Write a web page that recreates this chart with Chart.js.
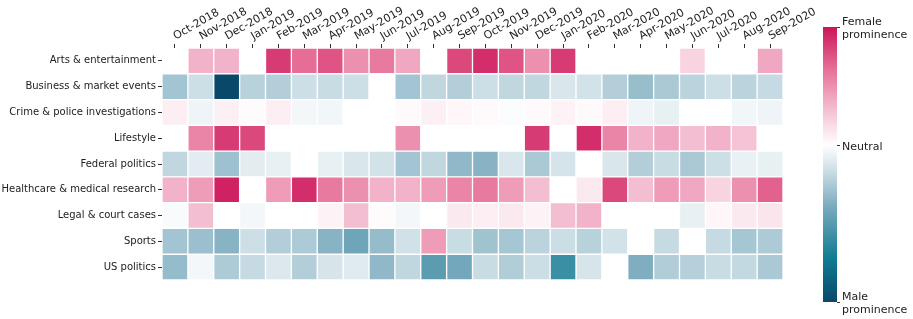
<!DOCTYPE html>
<html>
<head>
<meta charset="utf-8">
<script src="https://cdn.jsdelivr.net/npm/chart.js@4.4.1/dist/chart.umd.min.js"></script>
<style>
  body { margin: 0; background: #fff; }
  #wrap { position: relative; width: 913px; height: 319px; }
  canvas { position: absolute; top: 0; }
  #heat { left: 0; }
  #cbar { left: 800px; }
</style>
</head>
<body>
<div id="wrap">
  <canvas id="heat" width="913" height="319"></canvas>
  <canvas id="cbar" width="113" height="319"></canvas>
</div>
<script>
const months = ['Oct-2018', 'Nov-2018', 'Dec-2018', 'Jan-2019', 'Feb-2019', 'Mar-2019', 'Apr-2019', 'May-2019',
  'Jun-2019', 'Jul-2019', 'Aug-2019', 'Sep-2019', 'Oct-2019', 'Nov-2019', 'Dec-2019', 'Jan-2020',
  'Feb-2020', 'Mar-2020', 'Apr-2020', 'May-2020', 'Jun-2020', 'Jul-2020', 'Aug-2020', 'Sep-2020'];

const topics = ['Arts & entertainment', 'Business & market events', 'Crime & police investigations', 'Lifestyle',
  'Federal politics', 'Healthcare & medical research', 'Legal & court cases', 'Sports', 'US politics'];

// prominence score per month (positive = female, negative = male)
const arts = [0, 0.35, 0.35, 0, 0.85, 0.65, 0.75, 0.5, 0.6, 0.4, 0, 0.8, 0.9, 0.75, 0.5, 0.85, 0, 0, 0, 0, 0.2, 0, 0, 0.4];
const business = [-0.37, -0.21, -1.33, -0.29, -0.31, -0.21, -0.23, -0.21, 0, -0.37, -0.26, -0.31, -0.21, -0.26, -0.26, -0.16, -0.19, -0.31, -0.41, -0.34, -0.28, -0.21, -0.28, -0.24];
const crime = [0.08, -0.07, 0.07, 0.02, 0.08, -0.05, -0.06, 0, 0, 0.03, 0.07, 0.04, 0.03, -0.02, 0.03, 0.06, 0.03, 0.08, -0.07, -0.1, 0, 0, -0.06, -0.07];
const lifestyle = [0, 0.55, 0.85, 0.8, 0, 0, 0, 0, 0, 0.5, 0, 0, 0, 0, 0.85, 0, 0.9, 0.55, 0.35, 0.4, 0.3, 0.35, 0.28, 0];
const federal = [-0.26, -0.12, -0.39, -0.12, -0.1, 0, -0.1, -0.16, -0.19, -0.37, -0.26, -0.44, -0.47, -0.16, -0.34, -0.18, 0, -0.16, -0.31, -0.23, -0.34, -0.21, -0.09, -0.1];
const healthcare = [0.35, 0.45, 0.95, 0, 0.45, 0.9, 0.6, 0.5, 0.35, 0.35, 0.45, 0.55, 0.6, 0.45, 0.3, 0, 0.1, 0.8, 0.3, 0.45, 0.4, 0.2, 0.5, 0.7];
const legal = [-0.03, 0.3, 0, -0.05, 0, 0, 0.06, 0.3, 0.02, -0.05, 0, 0.1, 0.08, 0.1, 0.06, 0.3, 0.35, 0, 0, 0, -0.1, 0.04, 0.1, 0.12];
const sports = [-0.37, -0.4, -0.47, -0.21, -0.31, -0.33, -0.47, -0.57, -0.42, -0.2, 0.45, -0.23, -0.38, -0.36, -0.28, -0.22, -0.29, -0.19, 0, -0.24, 0, -0.24, -0.36, -0.33];
const usPolitics = [-0.42, -0.05, -0.33, -0.24, -0.15, -0.31, -0.17, -0.13, -0.44, -0.26, -0.65, -0.55, -0.23, -0.32, -0.22, -0.78, -0.17, 0, -0.5, -0.32, -0.3, -0.23, -0.25, -0.34];

const rows = [arts, business, crime, lifestyle, federal, healthcare, legal, sports, usPolitics];

const vmin = -1.33;
const vmax = 1;
const cbarTicks = [vmin, 0, vmax];
const cbarLabels = [['Male', 'prominence'], 'Neutral', ['Female', 'prominence']];

const stops = [
  [0.00, [10, 72, 106]],
  [0.16, [16, 124, 146]],
  [0.34, [118, 168, 188]],
  [0.48, [205, 223, 230]],
  [0.571, [255, 255, 255]],
  [0.70, [244, 190, 210]],
  [0.85, [230, 110, 150]],
  [1.00, [204, 20, 90]]
];

function rgb(c) { return 'rgb(' + c.map(Math.round).join(',') + ')'; }

function colorFor(v) {
  const t = Math.max(0, Math.min(1, (v - vmin) / (vmax - vmin)));
  for (let i = 1; i < stops.length; i++) {
    if (t <= stops[i][0]) {
      const [t0, c0] = stops[i - 1];
      const [t1, c1] = stops[i];
      const f = (t - t0) / (t1 - t0);
      return rgb(c0.map((c, k) => c + (c1[k] - c) * f));
    }
  }
  return rgb(stops[stops.length - 1][1]);
}

const textColor = '#222';
const font = { family: 'DejaVu Sans', size: 10 };

new Chart(document.getElementById('heat'), {
  type: 'bar',
  data: {
    labels: topics,
    datasets: months.map((m, j) => ({
      label: m,
      data: topics.map(() => 1),
      backgroundColor: rows.map(r => colorFor(r[j])),
      borderColor: '#fff',
      borderWidth: 1,
      borderSkipped: false,
      barPercentage: 1,
      categoryPercentage: 1
    }))
  },
  options: {
    indexAxis: 'y',
    responsive: false,
    animation: false,
    layout: { padding: { left: 0, top: 0, right: 130, bottom: 39 } },
    plugins: { legend: { display: false }, tooltip: { enabled: false } },
    scales: {
      x: {
        type: 'linear',
        position: 'top',
        stacked: true,
        min: 0,
        max: months.length,
        afterBuildTicks: s => { s.ticks = months.map((_, j) => ({ value: j + 0.5 })); },
        afterFit: s => { s.height = 48; },
        ticks: {
          autoSkip: false,
          minRotation: 30,
          maxRotation: 30,
          padding: 1,
          labelOffset: 6,
          color: textColor,
          font: { family: 'DejaVu Sans', size: 11 },
          callback: (v, i) => months[i]
        },
        grid: { drawOnChartArea: false, tickLength: 4, color: '#333' },
        border: { display: false }
      },
      y: {
        stacked: true,
        afterFit: s => { s.width = 162; },
        ticks: { color: textColor, font: font, padding: 2 },
        grid: { offset: false, drawOnChartArea: false, tickLength: 4, color: '#333' },
        border: { display: false }
      }
    }
  }
});

new Chart(document.getElementById('cbar'), {
  type: 'bar',
  data: {
    labels: [''],
    datasets: [{
      data: [[vmin, vmax]],
      barPercentage: 1,
      categoryPercentage: 1,
      borderWidth: 0,
      backgroundColor: ctx => {
        const chart = ctx.chart;
        if (!chart.chartArea) return null;
        const y = chart.scales.y;
        const g = chart.ctx.createLinearGradient(0, y.getPixelForValue(vmin), 0, y.getPixelForValue(vmax));
        stops.forEach(([t, c]) => g.addColorStop(t, rgb(c)));
        return g;
      }
    }]
  },
  options: {
    responsive: false,
    animation: false,
    layout: { padding: { left: 23, top: 27, bottom: 17, right: 0 } },
    plugins: { legend: { display: false }, tooltip: { enabled: false } },
    scales: {
      x: { display: false },
      y: {
        position: 'right',
        min: vmin,
        max: vmax,
        afterBuildTicks: s => { s.ticks = cbarTicks.map(v => ({ value: v })); },
        afterFit: s => { s.width = 76; },
        ticks: {
          color: textColor,
          font: { family: 'DejaVu Sans', size: 11 },
          padding: 2,
          labelOffset: 2,
          callback: (v, i) => cbarLabels[i]
        },
        grid: { drawOnChartArea: false, tickLength: 3, color: '#333' },
        border: { display: false }
      }
    }
  }
});
</script>
</body>
</html>
